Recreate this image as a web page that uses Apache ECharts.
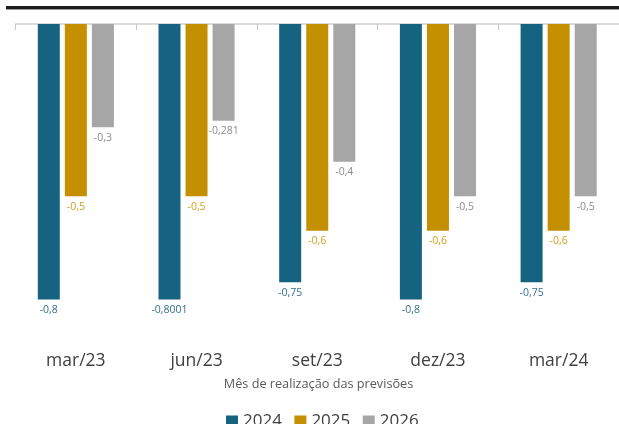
<!DOCTYPE html>
<html><head><meta charset="utf-8">
<script src="https://cdn.jsdelivr.net/npm/echarts@6/dist/echarts.min.js"></script>
<style>html,body{margin:0;padding:0;background:#fff}#c{width:619px;height:424px}</style>
</head><body><div id="c"></div>
<script>
const categories = ['mar/23','jun/23','set/23','dez/23','mar/24'];
const s2024 = [-0.8, -0.8001, -0.75, -0.8, -0.75];
const s2025 = [-0.5, -0.5, -0.6, -0.6, -0.6];
const s2026 = [-0.3, -0.281, -0.4, -0.5, -0.5];
const seriesNames = ['2024','2025','2026'];
const axisTitle = 'Mês de realização das previsões';

const colors = ['#166281','#c48f00','#a6a6a6'];
const labelColors = ['#34708f','#d39f1c','#8c8c8c'];
const fmt = p => String(p.value).replace('.', ',');
const chart = echarts.init(document.getElementById('c'));
const mk = (name, data, i) => ({
  name, type:'bar', data, barWidth:22, barGap:'23%', xAxisIndex:0,
  itemStyle:{color:colors[i]},
  label:{show:true, position:'outside', distance:5, formatter:fmt, color:labelColors[i],
    fontFamily:'Open Sans', fontSize:10.5}
});
chart.setOption({
  animation:false,
  textStyle:{fontFamily:'Open Sans'},
  grid:{left:15.5, top:24, width:607.5, height:310, containLabel:false},
  xAxis:[
    {type:'category', data:categories, position:'top',
     axisLine:{lineStyle:{color:'#d0d0d0', width:1.5}},
     axisTick:{show:true, inside:true, length:6, lineStyle:{color:'#c8c8c8'}},
     axisLabel:{show:false}},
    {type:'category', data:categories, position:'bottom',
     axisLine:{show:false}, axisTick:{show:false},
     axisLabel:{margin:18, fontSize:17.5, color:'#404040', fontFamily:'Open Sans'}}
  ],
  yAxis:{type:'value', min:-0.9, max:0, show:false, splitLine:{show:false}},
  legend:{data:seriesNames, bottom:-11, left:221, itemWidth:12, itemHeight:12, itemGap:12.5,
    icon:'rect', textStyle:{fontSize:17, color:'#404040', fontFamily:'Open Sans'}},
  graphic:[
    {type:'rect', shape:{x:6, y:6, width:613, height:3}, style:{fill:'#1c1c1c'}},
    {type:'rect', shape:{x:6, y:9, width:613, height:1}, style:{fill:'#9a9a9a'}},
    {type:'text', x:318.5, y:384, style:{text:axisTitle, fontSize:12.7, fill:'#595959',
      fontFamily:'Open Sans', textAlign:'center', textVerticalAlign:'middle'}}
  ],
  series:[mk('2024', s2024, 0), mk('2025', s2025, 1), mk('2026', s2026, 2)]
});
</script></body></html>
